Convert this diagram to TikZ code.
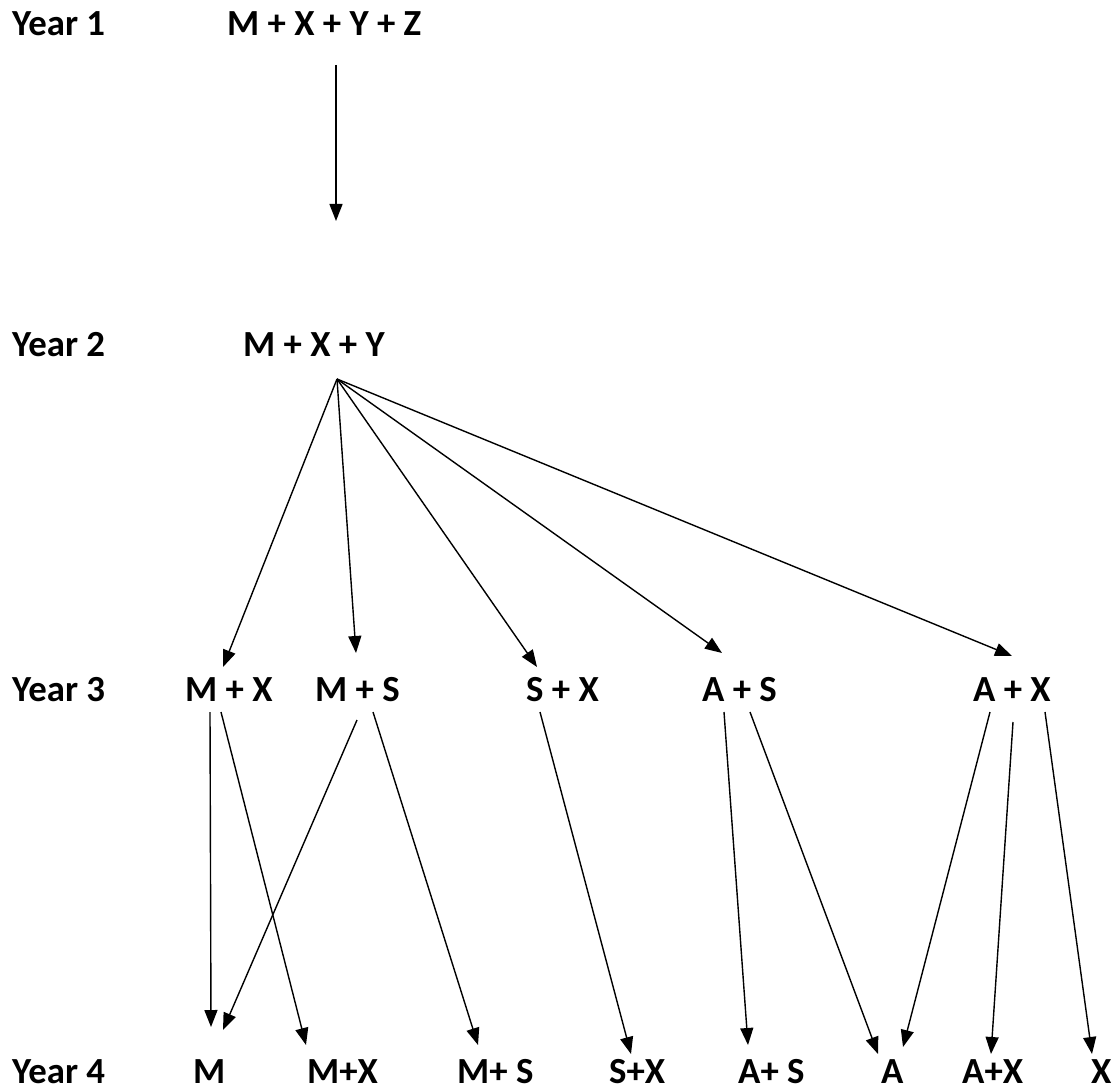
\documentclass[tikz,border=0pt]{standalone}
\usepackage{fontspec}
\setmainfont{Carlito}
\usetikzlibrary{arrows.meta}
\begin{document}
\begin{tikzpicture}[x=1pt,y=-1pt,
  lbl/.style={font=\bfseries\fontsize{36.8}{42}\selectfont, inner sep=0pt, anchor=base west},
  conn/.style={line width=1.4pt, -{Triangle[length=17pt,width=13pt]}}]
\useasboundingbox (0,0) rectangle (1115,1091);
% year labels
\node[lbl] (y1) at (12,36) {Year 1};
\node[lbl] (y2) at (12,356) {Year 2};
\node[lbl] (y3) at (12,701) {Year 3};
\node[lbl] (y4) at (12,1083) {Year 4};
% row 1, 2
\node[lbl] (mxyz) at (227,36) {M + X + Y + Z};
\node[lbl] (mxy) at (243,356) {M + X + Y};
% row 3
\node[lbl] (mx3) at (185,701) {M + X};
\node[lbl] (ms3) at (315,701) {M + S};
\node[lbl] (sx3) at (526,701) {S + X};
\node[lbl] (as3) at (702,701) {A + S};
\node[lbl] (ax3) at (973,701) {A + X};
% row 4
\node[lbl] (m4) at (193,1083) {M};
\node[lbl] (mx4) at (307,1083) {M+X};
\node[lbl] (ms4) at (457,1083) {M+ S};
\node[lbl] (sx4) at (609,1083) {S+X};
\node[lbl] (as4) at (738,1083) {A+ S};
\node[lbl] (a4) at (881,1083) {A};
\node[lbl] (ax4) at (962,1083) {A+X};
\node[lbl] (x4) at (1091,1083) {X};
% connector ends
\coordinate (s1) at (336,65);
\coordinate (t1) at (336,221);
\coordinate (apex) at (337,379);
\coordinate (tmx3) at (223,667);
\coordinate (tms3) at (356,653);
\coordinate (tsx3) at (537,667);
\coordinate (tas3) at (722,653);
\coordinate (tax3) at (1012,656);
% row 3 starts
\coordinate (mxa) at (210,712);
\coordinate (mxb) at (221,712);
\coordinate (msa) at (357,720);
\coordinate (msb) at (373,712);
\coordinate (sxa) at (540,712);
\coordinate (asa) at (724,712);
\coordinate (asb) at (750,712);
\coordinate (axa) at (990,712);
\coordinate (axb) at (1013,722);
\coordinate (axc) at (1045,712);
% row 4 tips
\coordinate (tm4a) at (211,1027);
\coordinate (tm4b) at (223,1030);
\coordinate (tmx4) at (306,1045);
\coordinate (tms4) at (478,1045);
\coordinate (tsx4) at (631,1054);
\coordinate (tas4) at (748,1045);
\coordinate (ta4a) at (878,1054);
\coordinate (ta4b) at (903,1047);
\coordinate (tax4) at (991,1054);
\coordinate (tx4) at (1092,1054);
% connectors
\draw[conn] (s1) -- (t1);
\draw[conn] (apex) -- (tmx3);
\draw[conn] (apex) -- (tms3);
\draw[conn] (apex) -- (tsx3);
\draw[conn] (apex) -- (tas3);
\draw[conn] (apex) -- (tax3);
\draw[conn] (mxa) -- (tm4a);
\draw[conn] (mxb) -- (tmx4);
\draw[conn] (msa) -- (tm4b);
\draw[conn] (msb) -- (tms4);
\draw[conn] (sxa) -- (tsx4);
\draw[conn] (asa) -- (tas4);
\draw[conn] (asb) -- (ta4a);
\draw[conn] (axa) -- (ta4b);
\draw[conn] (axb) -- (tax4);
\draw[conn] (axc) -- (tx4);
\end{tikzpicture}
\end{document}
